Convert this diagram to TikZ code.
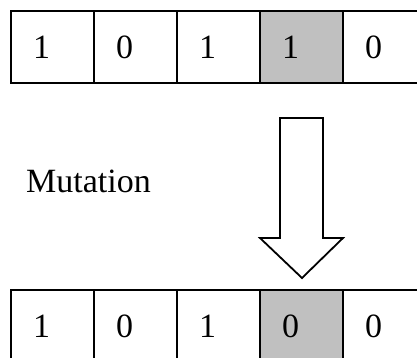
\documentclass[tikz,border=0pt]{standalone}
\usepackage{fontspec}
\setmainfont{Liberation Serif}
\definecolor{cellgray}{HTML}{C0C0C0}
\begin{document}
\begin{tikzpicture}[x=1pt,y=-1pt,
  cell/.style={draw=black,line width=2.4pt,minimum width=83pt,minimum height=72pt,inner sep=0pt,outer sep=0pt,anchor=north west,font=\fontsize{34}{40}\selectfont,text depth=0pt},
  hot/.style={cell,fill=cellgray},
  bigarrow/.style={draw=black,line width=1.8pt,fill=white,line join=miter}]
\useasboundingbox (0,0) rectangle (417,358);
\clip (0,0) rectangle (417,358);
\fill[white] (0,0) rectangle (417,358);
% top row
\node[cell] (t1) at (11,11) {};
\node[cell] (t2) at (94,11) {};
\node[cell] (t3) at (177,11) {};
\node[hot]  (t4) at (260,11) {};
\node[cell] (t5) at (343,11) {};
\foreach \i/\v in {1/1,2/0,3/1,4/1,5/0}
  \node[font=\fontsize{34}{40}\selectfont] (tl\i) at ([xshift=-11pt]t\i.center) {\v};
% bottom row
\node[cell] (b1) at (11,290) {};
\node[cell] (b2) at (94,290) {};
\node[cell] (b3) at (177,290) {};
\node[hot]  (b4) at (260,290) {};
\node[cell] (b5) at (343,290) {};
\foreach \i/\v in {1/1,2/0,3/1,4/0,5/0}
  \node[font=\fontsize{34}{40}\selectfont] (bl\i) at ([xshift=-11pt]b\i.center) {\v};
% arrow
\draw[bigarrow] (280,118) -- (323,118) -- (323,238) -- (343,238) -- (302,278) -- (260,238) -- (280,238) -- cycle;
% label
\node[font=\fontsize{34}{40}\selectfont,anchor=west,inner sep=0pt] (lab) at (26,181) {Mutation};
\end{tikzpicture}
\end{document}
